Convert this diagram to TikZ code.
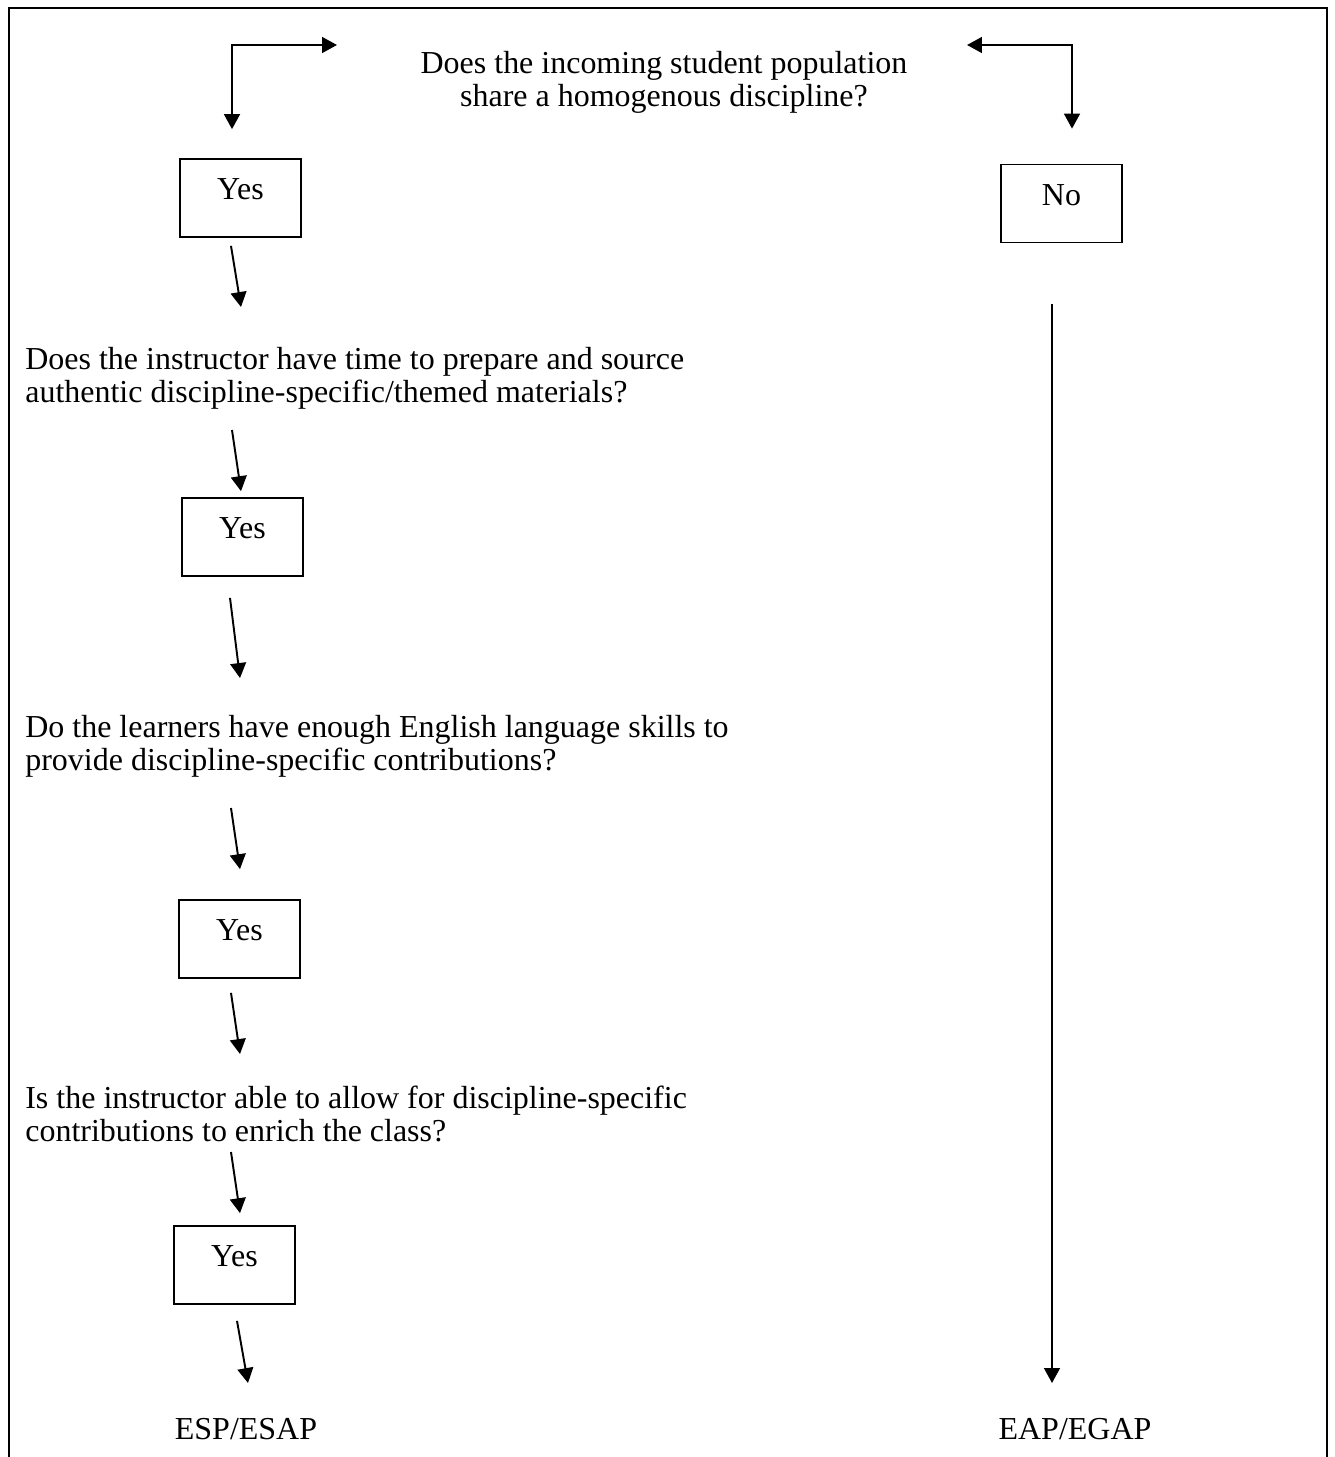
\documentclass[tikz,border=0pt]{standalone}
\usepackage{fontspec}
\setmainfont{Liberation Serif}
\usepackage{tikz}
\usetikzlibrary{arrows.meta}
\tikzstyle{arrow} = [line width=1.1pt,-{Triangle[length=8.5pt,width=9pt]}]
\tikzstyle{arrow_both} = [line width=1.1pt,{Triangle[length=8.5pt,width=9pt]}-{Triangle[length=8.5pt,width=9pt]}]
\tikzstyle{answer} = [rectangle, draw, line width=1pt, minimum width=2.42cm, inner sep=0pt, text height=0.81cm, text depth=0.75cm]
\tikzstyle{question} = [align=left, inner sep=0pt, anchor=west]

\begin{document}
\begin{tikzpicture}[x=0.02cm, y=-0.02cm, font=\fontsize{18.2}{18.8}\selectfont]
        \useasboundingbox (0,0) rectangle (1335,1457);
        \draw[line width=1.6pt] (9,1457) |- (1327,8) -- (1327,1457);

        \node (homogenous) [align=center, inner sep=0pt] at (664,82) {Does the incoming student population\\ share a homogenous discipline?};
        \node (yes_1) [answer] at (240.5,198) {Yes};
        \node (no) [answer] at (1061.5,203.5) {No};
        \node (prepare) [question] at (25,378) {Does the instructor have time to prepare and source\\authentic discipline-specific/themed materials?};
        \node (yes_2) [answer] at (242.5,537) {Yes};
        \node (skills) [question] at (25,746) {Do the learners have enough English language skills to\\provide discipline-specific contributions?};
        \node (yes_3) [answer] at (239.5,939) {Yes};
        \node (enrich) [question] at (25,1114) {Is the instructor able to allow for discipline-specific\\contributions to enrich the class?};
        \node (yes_4) [answer] at (234.5,1265) {Yes};
        \node (esp) [inner sep=0pt] at (246,1429) {ESP/ESAP};
        \node (eap) [inner sep=0pt] at (1075,1429) {EAP/EGAP};

        \draw [arrow_both] ([shift={(-327,-37)}]homogenous.center) -| ([shift={(-8.5,-29)}]yes_1.north);
        \draw [arrow_both] ([shift={(303,-37)}]homogenous.center) -| ([shift={(10.5,-35)}]no.north);

        \draw [arrow] ([shift={(-9.5,8)}]yes_1.south) -- ([shift={(216,-71)}]prepare.west);
        \draw [arrow] ([shift={(207,52)}]prepare.west) -- ([shift={(-1.5,-6)}]yes_2.north);
        \draw [arrow] ([shift={(-12.5,21)}]yes_2.south) -- ([shift={(215,-68)}]skills.west);
        \draw [arrow] ([shift={(206,62)}]skills.west) -- ([shift={(0.5,-30)}]yes_3.north);
        \draw [arrow] ([shift={(-8.5,14)}]yes_3.south) -- ([shift={(215,-60)}]enrich.west);
        \draw [arrow] ([shift={(206,38)}]enrich.west) -- ([shift={(5.5,-12)}]yes_4.north);
        \draw [arrow] ([shift={(2.5,16)}]yes_4.south) -- ([shift={(2,-46)}]esp.center);
        \draw [arrow] ([shift={(-9.5,61)}]no.south) -- ([shift={(-23,-46)}]eap.center);
    \end{tikzpicture}
\end{document}
